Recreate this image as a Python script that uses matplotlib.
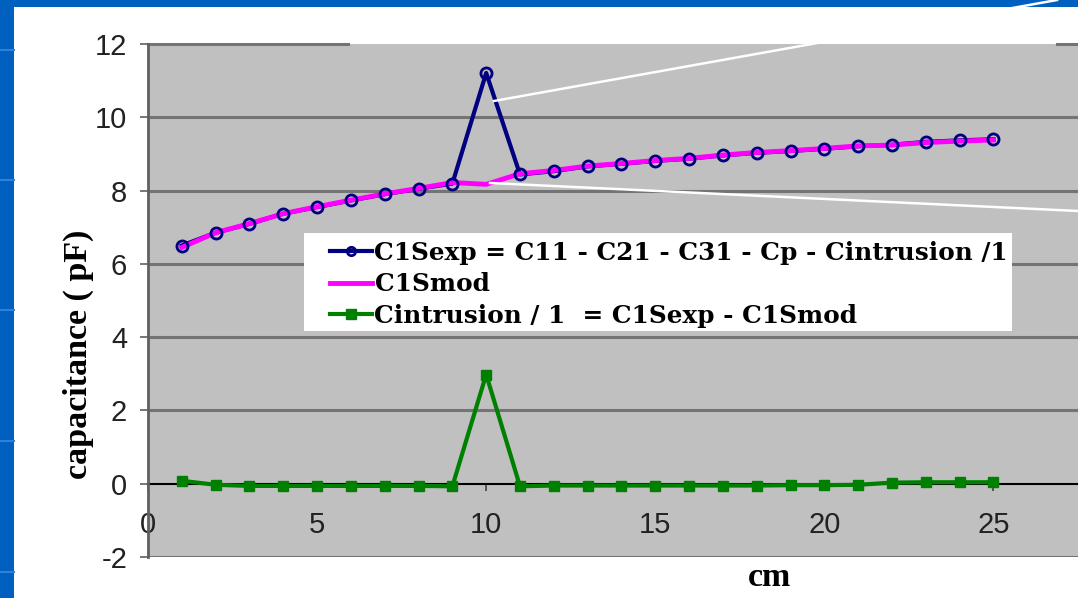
import matplotlib.pyplot as plt
from matplotlib.lines import Line2D
from matplotlib.patches import Rectangle

# data
x_cm = list(range(1, 26))
c1s_exp = [6.50, 6.85, 7.09, 7.37, 7.55, 7.73, 7.90, 8.05, 8.19, 11.21,
           8.44, 8.53, 8.66, 8.73, 8.81, 8.87, 8.96, 9.03, 9.08, 9.14,
           9.21, 9.25, 9.33, 9.37, 9.40]
c1s_mod = [6.45, 6.85, 7.10, 7.37, 7.56, 7.74, 7.91, 8.06, 8.22, 8.17,
           8.46, 8.55, 8.67, 8.74, 8.82, 8.88, 8.97, 9.04, 9.09, 9.15,
           9.22, 9.24, 9.31, 9.35, 9.38]
c_intrusion = [0.08, -0.03, -0.06, -0.06, -0.06, -0.06, -0.06, -0.06, -0.07, 2.98,
               -0.07, -0.05, -0.05, -0.05, -0.05, -0.05, -0.05, -0.05, -0.04, -0.04,
               -0.03, 0.03, 0.04, 0.04, 0.04]
labels = ["C1Sexp = C11 - C21 - C31 - Cp - Cintrusion /1",
          "C1Smod",
          "Cintrusion / 1  = C1Sexp - C1Smod"]
y_ticks = [-2, 0, 2, 4, 6, 8, 10, 12]
x_ticks = [0, 5, 10, 15, 20, 25]

plt.rcParams["axes.unicode_minus"] = False

W, H = 1078, 598
fig = plt.figure(figsize=(W / 100, H / 100), dpi=100, facecolor="#0060c0")

# white slide panel over the blue background
fig.add_artist(Rectangle((14 / W, 0), 1 - 14 / W, 1 - 7 / H,
                         transform=fig.transFigure, facecolor="white",
                         edgecolor="none", zorder=-10))
for yy in [50, 180, 310, 441, 572]:
    fig.add_artist(Line2D([0, 14 / W], [1 - yy / H] * 2, transform=fig.transFigure,
                          color="#2f80d8", lw=1.5, zorder=-9))

ax = fig.add_axes([148 / W, 1 - 557 / H, 930 / W, 513 / H])
ax.set_facecolor("#c0c0c0")
ax.set_xlim(0, 27.5)
ax.set_ylim(-2, 12)

# gridlines (top one partly hidden in the original)
for t in y_ticks:
    if t in (0, 12):
        continue
    ax.axhline(t, color="#747474", lw=2.2, zorder=1)
ax.axhline(12, xmin=0, xmax=(348 - 148) / 930, color="#747474", lw=2.2, zorder=1, clip_on=False)
ax.axhline(12, xmin=(1057 - 148) / 930, xmax=1, color="#747474", lw=2.2, zorder=1, clip_on=False)

# series
ax.plot(x_cm, c1s_exp, color="#000080", lw=3.0, zorder=3)
ax.plot(x_cm, c1s_mod, color="#ff00ff", lw=3.5, zorder=4)
ax.plot(x_cm, c1s_exp, ls="none", marker="o", ms=8, mfc="none",
        mec="#000080", mew=2.0, zorder=5)
ax.plot(x_cm, c_intrusion, color="#008000", lw=3.0, marker="s", ms=7,
        mfc="#008000", mec="#008000", zorder=5)

# axes styling
for s in ["top", "right"]:
    ax.spines[s].set_visible(False)
ax.spines["left"].set_color("#606060")
ax.spines["left"].set_linewidth(2.0)
ax.spines["bottom"].set_position(("data", 0))
ax.spines["bottom"].set_color("black")
ax.spines["bottom"].set_linewidth(1.5)
ax.spines["bottom"].set_zorder(2)

ax.set_yticks(y_ticks)
ax.set_xticks(x_ticks)
ax.tick_params(axis="y", direction="out", length=6, width=1.2, color="#606060",
               labelsize=21, pad=9)
ax.tick_params(axis="x", direction="out", length=5, width=1.2, color="#404040",
               labelsize=21, pad=15)
for lab in ax.get_xticklabels() + ax.get_yticklabels():
    lab.set_fontfamily("Liberation Sans")
    lab.set_color("#222222")

ax.set_ylabel("capacitance ( pF)", fontfamily="Liberation Serif", fontweight="bold",
              fontsize=24.5, va="center", ha="center")
ax.yaxis.set_label_coords((78 - 148) / 930, (557 - 354) / 513)
ax.set_xlabel("cm", fontfamily="Liberation Serif", fontweight="bold",
              fontsize=24.5, va="center", ha="center")
ax.xaxis.set_label_coords((770 - 148) / 930, (557 - 578) / 513)

# legend on a white box
fig.add_artist(Rectangle((304 / W, 1 - 331 / H), (1012 - 304) / W, (331 - 233) / H,
                         transform=fig.transFigure, facecolor="white",
                         edgecolor="none", zorder=4))
handles = [
    Line2D([], [], color="#000080", lw=3.0, marker="o", ms=6, mfc="none", mec="#000080", mew=2),
    Line2D([], [], color="#ff00ff", lw=3.5),
    Line2D([], [], color="#008000", lw=3.0, marker="s", ms=7, mfc="#008000", mec="#008000"),
]
leg = fig.legend(handles, labels, loc="upper left",
                 bbox_to_anchor=(330 / W, 1 - 241 / H), bbox_transform=fig.transFigure,
                 frameon=False, borderpad=0, borderaxespad=0, handlelength=1.7,
                 handletextpad=0.1, labelspacing=0.3,
                 prop={"family": "DejaVu Serif", "weight": "bold", "size": 17.8})
leg.set_zorder(5)

# white callout lines from the slide
fig.add_artist(Line2D([494 / W, 1057 / W], [1 - 101 / H, 1], transform=fig.transFigure,
                      color="white", lw=1.8, zorder=6))
fig.add_artist(Line2D([490 / W, 1], [1 - 183 / H, 1 - 211 / H], transform=fig.transFigure,
                      color="white", lw=1.8, zorder=6))

plt.savefig("out.png", dpi=100, facecolor=fig.get_facecolor())
